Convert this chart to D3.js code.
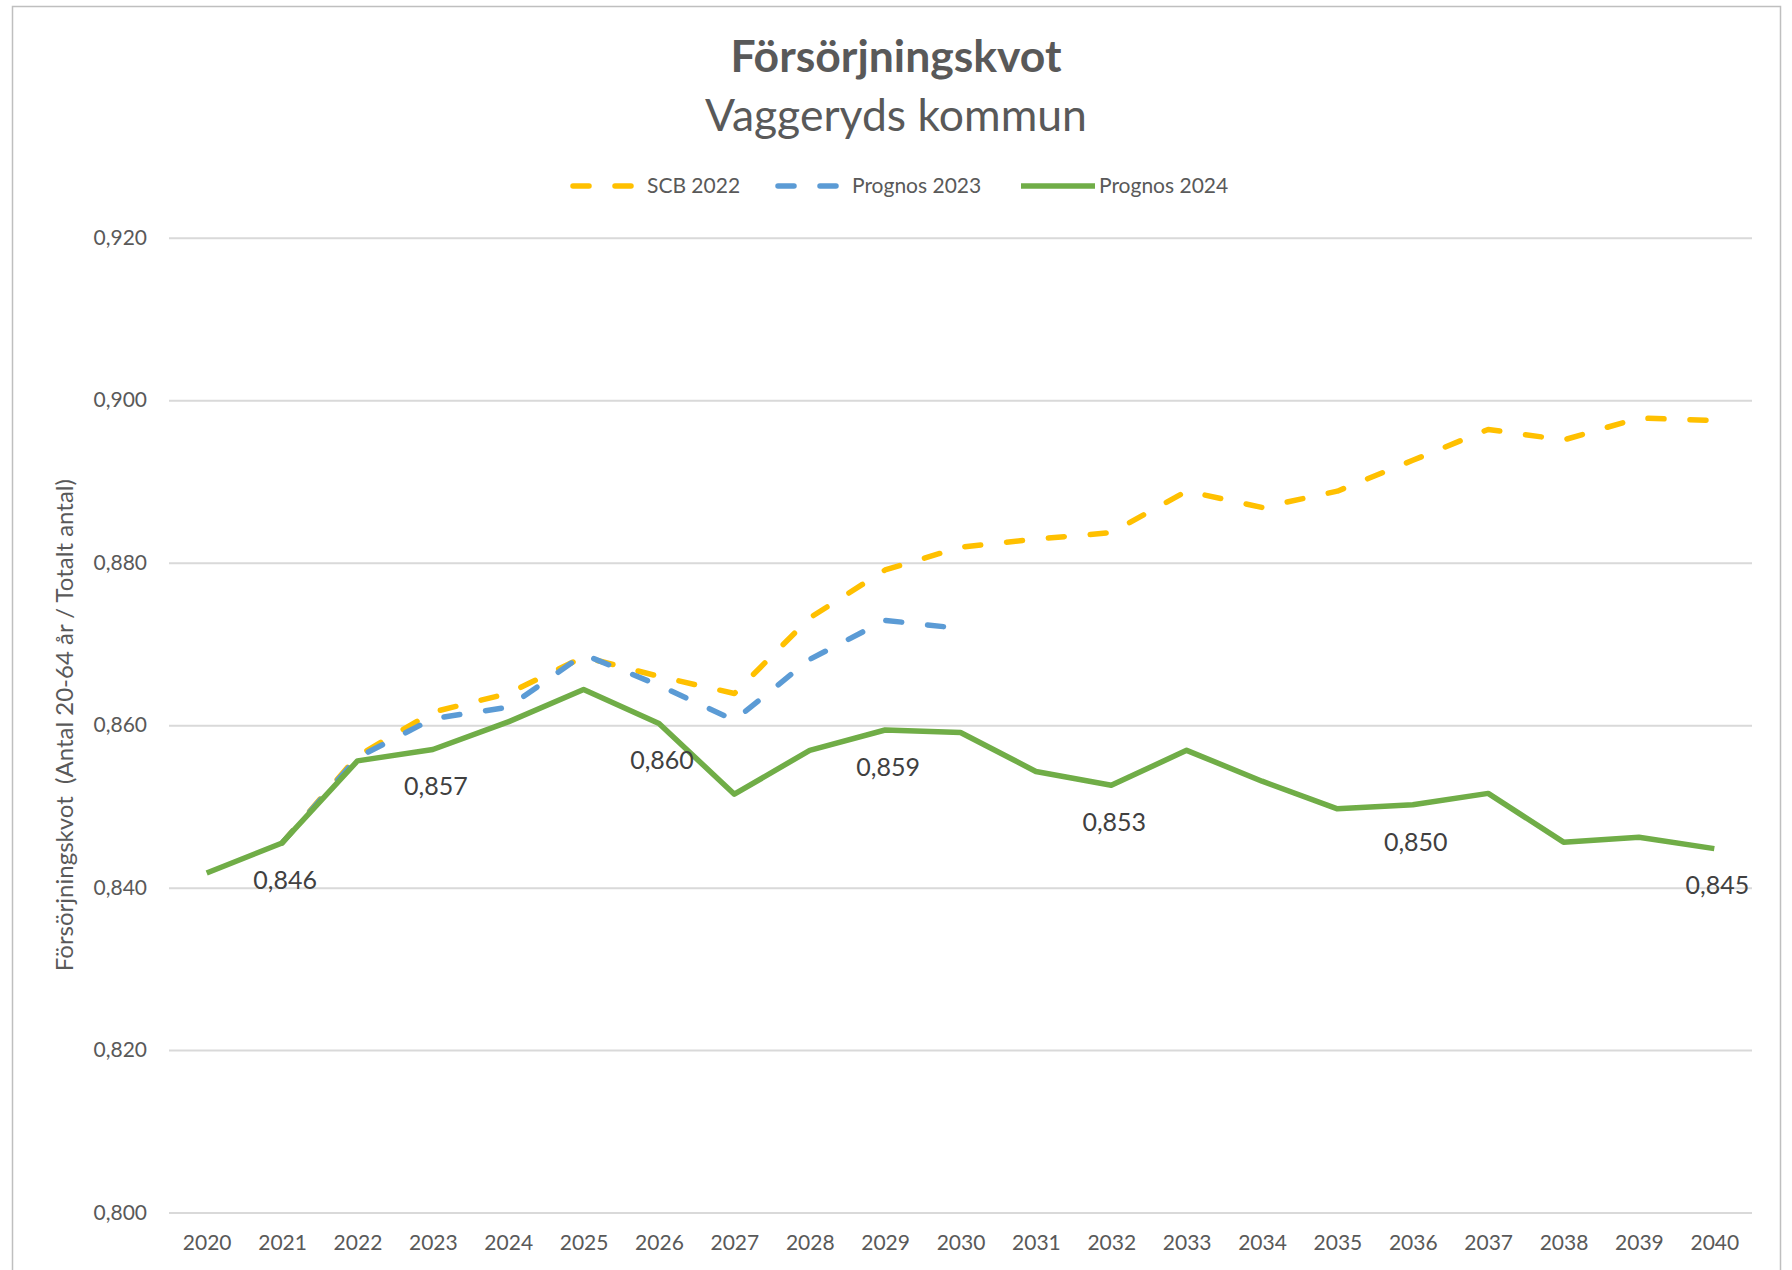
<!DOCTYPE html>
<html lang="sv">
<head>
    <meta charset="UTF-8">
    <script src="https://d3js.org/d3.v7.min.js"></script>
    <title>Försörjningskvot</title>
    <style>
        body { margin: 0; background: #fff; }
        text { font-family: Lato, "Open Sans", sans-serif; }
    </style>
</head>
<body>

<script>
    // data
    const years = ["2020", "2021", "2022", "2023", "2024", "2025", "2026", "2027", "2028", "2029", "2030",
                   "2031", "2032", "2033", "2034", "2035", "2036", "2037", "2038", "2039", "2040"];

    const scb2022 = [null, 0.8455, 0.8562, 0.8616, 0.8639, 0.8684, 0.8660, 0.8639, 0.8732, 0.8791, 0.8819,
                     0.8829, 0.8837, 0.8888, 0.8868, 0.8888, 0.8926, 0.8964, 0.8951, 0.8978, 0.8975];

    const prognos2023 = [null, 0.8455, 0.8560, 0.8608, 0.8622, 0.8687, 0.8649, 0.8606, 0.8681, 0.8729, 0.8719,
                         null, null, null, null, null, null, null, null, null, null];

    const prognos2024 = [0.8418, 0.8455, 0.8556, 0.8570, 0.8604, 0.8644, 0.8602, 0.8515, 0.8569, 0.8594, 0.8591,
                         0.8543, 0.8526, 0.8569, 0.8531, 0.8497, 0.8502, 0.8516, 0.8456, 0.8462, 0.8448];

    // years that carry a value label on the 2024 line
    const labelYears = ["2021", "2023", "2026", "2029", "2032", "2036", "2040"];

    const yTicks = [0.800, 0.820, 0.840, 0.860, 0.880, 0.900, 0.920];

    const series = [
        { name: "SCB 2022", values: scb2022, color: "#FFC000", dashed: true },
        { name: "Prognos 2023", values: prognos2023, color: "#5B9BD5", dashed: true },
        { name: "Prognos 2024", values: prognos2024, color: "#70AD47", dashed: false }
    ];

    const W = 1792, H = 1270;
    const plot = { left: 169, right: 1752, top: 237.7, bottom: 1212.6 };

    const sv = d3.formatLocale({ decimal: ",", thousands: " ", grouping: [3], currency: ["", " kr"] });
    const fmt = sv.format(".3f");

    const svg = d3.select("body").append("svg")
        .attr("width", W)
        .attr("height", H);

    // chart frame
    svg.append("rect")
        .attr("x", 12.5).attr("y", 6.5)
        .attr("width", 1768).attr("height", 1290)
        .attr("fill", "#fff")
        .attr("stroke", "#BFBFBF")
        .attr("stroke-width", 1.5);

    const x = d3.scalePoint()
        .domain(years)
        .range([plot.left, plot.right])
        .padding(0.5);

    const y = d3.scaleLinear()
        .domain([0.8, 0.92])
        .range([plot.bottom, plot.top]);

    // y axis + gridlines
    const yAxis = svg.append("g")
        .attr("transform", "translate(" + plot.left + ",0)")
        .call(d3.axisLeft(y)
            .tickValues(yTicks)
            .tickSize(-(plot.right - plot.left))
            .tickPadding(22)
            .tickFormat(fmt));
    yAxis.select(".domain").remove();
    yAxis.selectAll("line").attr("stroke", "#D9D9D9").attr("stroke-width", 2);
    yAxis.selectAll("text")
        .attr("fill", "#595959")
        .style("font-size", "21px");

    // x axis
    const xAxis = svg.append("g")
        .attr("transform", "translate(0," + plot.bottom + ")")
        .call(d3.axisBottom(x).tickSize(0).tickPadding(22));
    xAxis.select(".domain").remove();
    xAxis.selectAll("text")
        .attr("fill", "#595959")
        .style("font-size", "21px");

    // lines
    const line = d3.line()
        .defined(d => d.v != null)
        .x(d => x(d.year))
        .y(d => y(d.v));

    series.forEach(s => {
        const pts = years.map((yr, i) => ({ year: yr, v: s.values[i] }));
        svg.append("path")
            .datum(pts)
            .attr("fill", "none")
            .attr("stroke", s.color)
            .attr("stroke-width", 5.5)
            .attr("stroke-linejoin", "round")
            .attr("stroke-linecap", s.dashed ? "round" : "butt")
            .attr("stroke-dasharray", s.dashed ? "16 26" : null)
            .attr("d", line);
    });

    // value labels under the 2024 line
    svg.selectAll(".vlabel")
        .data(labelYears)
        .enter().append("text")
        .attr("class", "vlabel")
        .attr("x", d => x(d) + 3)
        .attr("y", d => y(prognos2024[years.indexOf(d)]) + 37)
        .attr("dy", "0.35em")
        .attr("text-anchor", "middle")
        .attr("fill", "#404040")
        .style("font-size", "25px")
        .text(d => fmt(prognos2024[years.indexOf(d)]));

    // title
    svg.append("text")
        .attr("x", 896).attr("y", 72)
        .attr("text-anchor", "middle")
        .attr("fill", "#595959")
        .style("font-size", "44.5px")
        .style("font-weight", "bold")
        .text("Försörjningskvot");

    svg.append("text")
        .attr("x", 896).attr("y", 131)
        .attr("text-anchor", "middle")
        .attr("fill", "#595959")
        .style("font-size", "44.5px")
        .text("Vaggeryds kommun");

    // legend
    const legendX = [569, 774, 1021];
    const legend = svg.selectAll(".legend")
        .data(series)
        .enter().append("g")
        .attr("class", "legend")
        .attr("transform", (d, i) => "translate(" + legendX[i] + ",186)");

    legend.append("line")
        .attr("x1", d => d.dashed ? 4 : 0)
        .attr("x2", d => d.dashed ? 66 : 74)
        .attr("stroke", d => d.color)
        .attr("stroke-width", 5.5)
        .attr("stroke-linecap", d => d.dashed ? "round" : "butt")
        .attr("stroke-dasharray", d => d.dashed ? "16 26" : null);

    legend.append("text")
        .attr("x", 78)
        .attr("dy", "0.35em")
        .attr("fill", "#595959")
        .style("font-size", "21px")
        .text(d => d.name);

    // y axis title
    svg.append("text")
        .attr("transform", "translate(65," + ((plot.top + plot.bottom) / 2) + ") rotate(-90)")
        .attr("dy", "0.35em")
        .attr("text-anchor", "middle")
        .attr("fill", "#595959")
        .style("font-size", "24px")
        .attr("xml:space", "preserve")
        .text("Försörjningskvot  (Antal 20-64 år / Totalt antal)");
</script>

</body>
</html>
